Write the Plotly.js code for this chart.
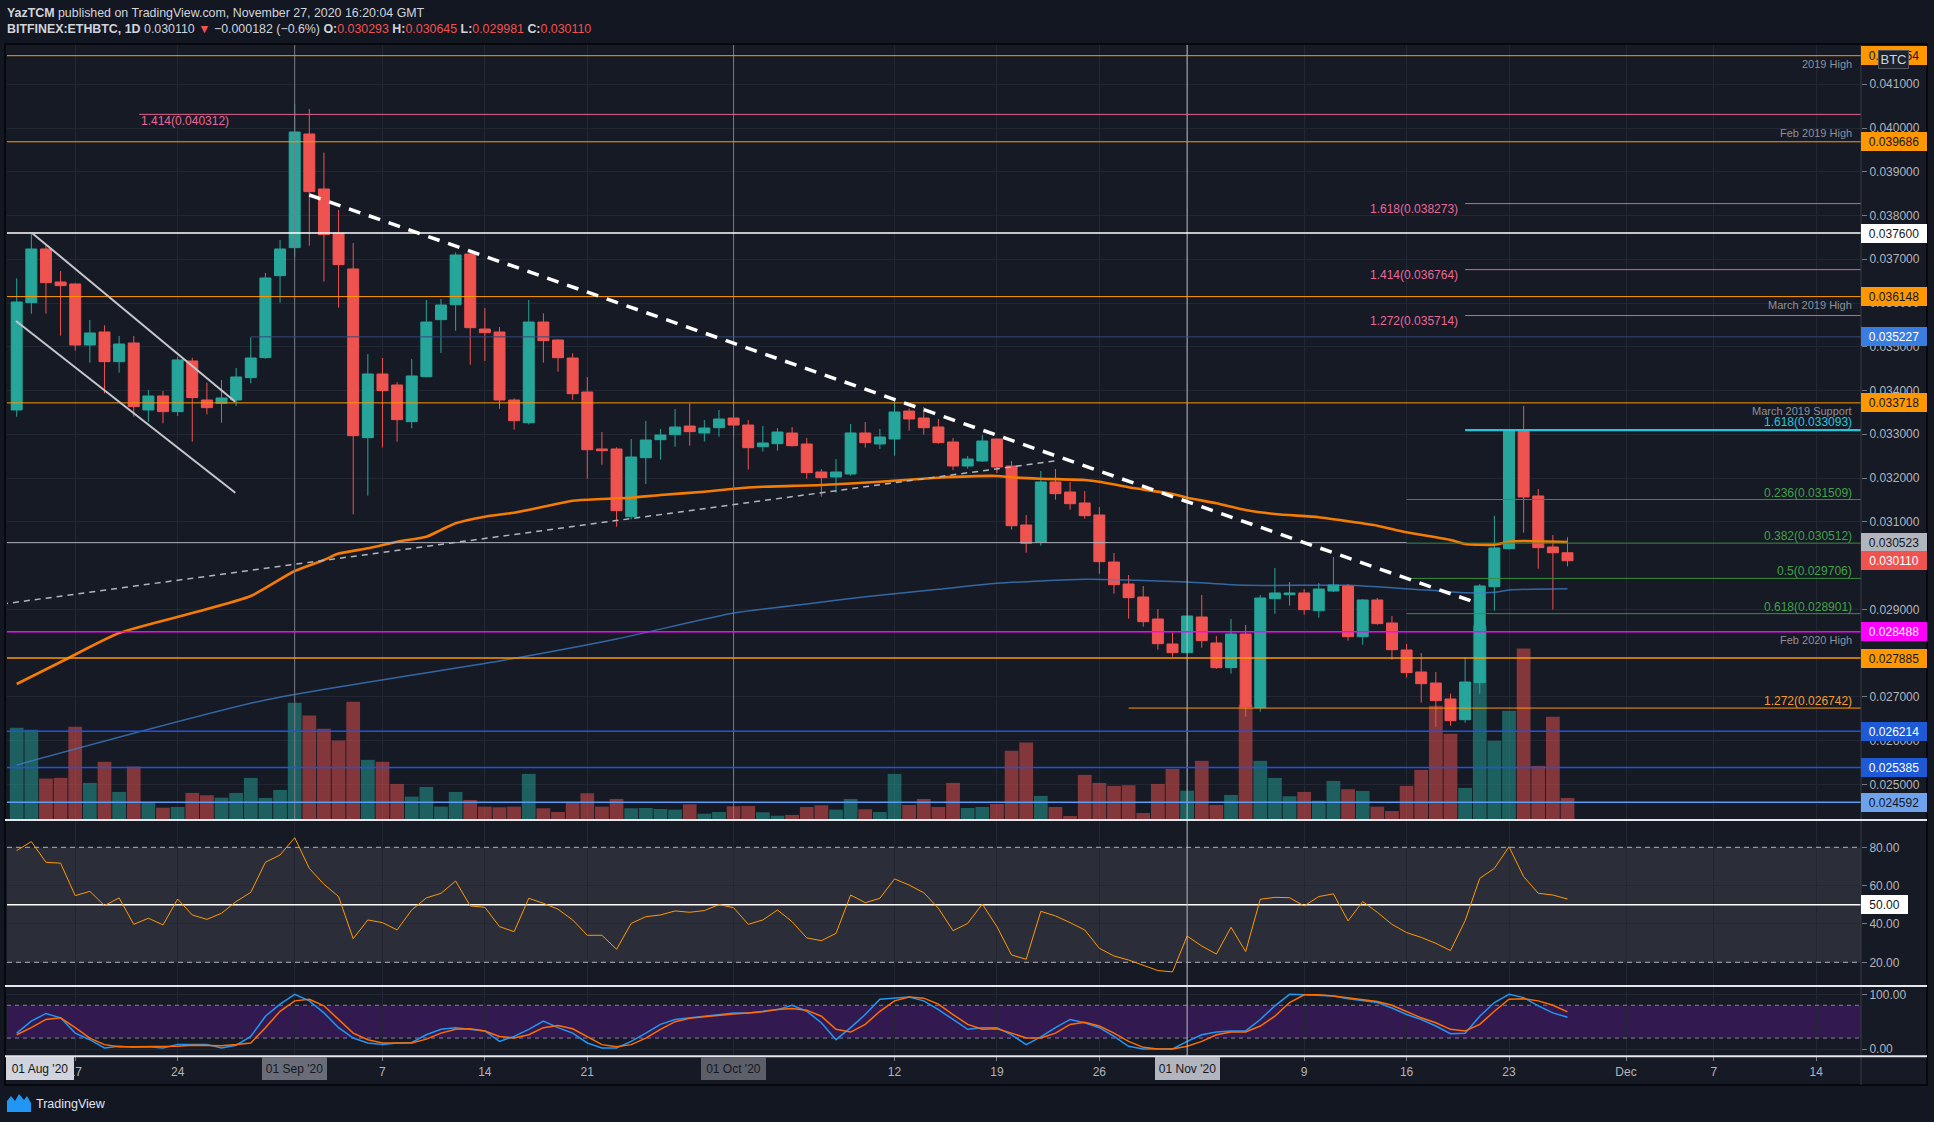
<!DOCTYPE html>
<html>
<head>
<meta charset="utf-8">
<script src="https://cdn.plot.ly/plotly-3.0.1.min.js"></script>
<style>
html,body{margin:0;padding:0;background:#131722;overflow:hidden;}
#chart{width:1934px;height:1122px;}
</style>
</head>
<body>
<div id="chart"></div>
<script>
// ---------------- DATA ----------------
const dates = [
'2020-08-13','2020-08-14','2020-08-15','2020-08-16','2020-08-17','2020-08-18','2020-08-19','2020-08-20','2020-08-21','2020-08-22',
'2020-08-23','2020-08-24','2020-08-25','2020-08-26','2020-08-27','2020-08-28','2020-08-29','2020-08-30','2020-08-31','2020-09-01',
'2020-09-02','2020-09-03','2020-09-04','2020-09-05','2020-09-06','2020-09-07','2020-09-08','2020-09-09','2020-09-10','2020-09-11',
'2020-09-12','2020-09-13','2020-09-14','2020-09-15','2020-09-16','2020-09-17','2020-09-18','2020-09-19','2020-09-20','2020-09-21',
'2020-09-22','2020-09-23','2020-09-24','2020-09-25','2020-09-26','2020-09-27','2020-09-28','2020-09-29','2020-09-30','2020-10-01',
'2020-10-02','2020-10-03','2020-10-04','2020-10-05','2020-10-06','2020-10-07','2020-10-08','2020-10-09','2020-10-10','2020-10-11',
'2020-10-12','2020-10-13','2020-10-14','2020-10-15','2020-10-16','2020-10-17','2020-10-18','2020-10-19','2020-10-20','2020-10-21',
'2020-10-22','2020-10-23','2020-10-24','2020-10-25','2020-10-26','2020-10-27','2020-10-28','2020-10-29','2020-10-30','2020-10-31',
'2020-11-01','2020-11-02','2020-11-03','2020-11-04','2020-11-05','2020-11-06','2020-11-07','2020-11-08','2020-11-09','2020-11-10',
'2020-11-11','2020-11-12','2020-11-13','2020-11-14','2020-11-15','2020-11-16','2020-11-17','2020-11-18','2020-11-19','2020-11-20',
'2020-11-21','2020-11-22','2020-11-23','2020-11-24','2020-11-25','2020-11-26','2020-11-27'];

const open = [0.033556,0.036009,0.037236,0.036481,0.036436,0.035041,0.035339,0.034660,0.035087,0.033556,
0.033876,0.033518,0.034676,0.033784,0.033708,0.033784,0.034295,0.034752,0.036626,0.037266,
0.039864,0.038607,0.037594,0.036779,0.032923,0.034379,0.034127,0.033289,0.034317,0.035620,
0.035963,0.037121,0.035406,0.035338,0.033784,0.033265,0.035566,0.035155,0.034744,0.033966,
0.032664,0.032664,0.031117,0.032465,0.032877,0.032991,0.033189,0.033029,0.033151,0.033372,
0.033212,0.032717,0.032785,0.033029,0.032778,0.032138,0.032024,0.032092,0.033030,0.032778,
0.032892,0.033532,0.033372,0.033167,0.032824,0.032275,0.032390,0.032892,0.032275,0.030927,
0.030538,0.031910,0.031681,0.031430,0.031155,0.030081,0.029578,0.029281,0.028778,0.028207,
0.028009,0.028824,0.028230,0.027666,0.028435,0.026752,0.029243,0.029334,0.029373,0.028969,
0.029418,0.029533,0.028374,0.029213,0.028687,0.028070,0.027567,0.027315,0.026950,0.026477,
0.027323,0.029517,0.030386,0.033075,0.031590,0.030424,0.030293];

const high = [0.036565,0.037609,0.037327,0.036733,0.036451,0.035613,0.035491,0.035247,0.035247,0.034013,
0.033990,0.034775,0.034752,0.034180,0.034241,0.034516,0.035217,0.036687,0.037441,0.040550,
0.040436,0.039438,0.038127,0.037373,0.034836,0.034744,0.034196,0.034721,0.036069,0.036092,
0.037159,0.037160,0.035886,0.035452,0.033822,0.036069,0.035765,0.035170,0.034850,0.034309,
0.033052,0.032702,0.032892,0.033304,0.033121,0.033578,0.033707,0.033326,0.033555,0.033867,
0.033326,0.033189,0.033144,0.033166,0.032915,0.032207,0.032435,0.033235,0.033281,0.033121,
0.033761,0.033593,0.033624,0.033350,0.032915,0.032504,0.032984,0.032900,0.032390,0.031155,
0.032161,0.032207,0.031910,0.031704,0.031338,0.030287,0.029784,0.029532,0.029007,0.028466,
0.028847,0.029327,0.028390,0.028778,0.028641,0.029327,0.029944,0.029624,0.029464,0.029601,
0.030195,0.029578,0.029235,0.029258,0.028847,0.028207,0.028001,0.027567,0.027072,0.027910,
0.029578,0.031140,0.033098,0.033650,0.031750,0.030698,0.030645];

const low = [0.033403,0.035758,0.035758,0.035255,0.034912,0.034638,0.033937,0.034409,0.033403,0.033289,
0.033251,0.033419,0.032832,0.033457,0.033266,0.033647,0.034165,0.034729,0.036009,0.037060,
0.037312,0.036489,0.035895,0.031171,0.031598,0.032702,0.032832,0.033137,0.034300,0.034858,
0.035368,0.034591,0.034675,0.033585,0.033105,0.033227,0.034637,0.034431,0.033784,0.031985,
0.032305,0.030888,0.031056,0.031864,0.032420,0.032717,0.032740,0.032831,0.032945,0.032968,
0.032191,0.032603,0.032625,0.032717,0.031985,0.031574,0.031666,0.032054,0.032694,0.032664,
0.032511,0.033083,0.032991,0.032786,0.032184,0.032214,0.032367,0.032115,0.030820,0.030294,
0.030454,0.031506,0.031277,0.031071,0.029814,0.029357,0.028786,0.028603,0.028077,0.027917,
0.027990,0.028123,0.027640,0.027529,0.026546,0.026660,0.028900,0.029083,0.028877,0.028809,
0.029395,0.028283,0.028192,0.028649,0.027849,0.027437,0.026866,0.026317,0.026340,0.026409,
0.027072,0.028969,0.030363,0.030752,0.029929,0.028992,0.029981];

const close = [0.036024,0.037236,0.036466,0.036398,0.035041,0.035316,0.034660,0.035064,0.033632,0.033876,
0.033518,0.034699,0.033838,0.033609,0.033830,0.034310,0.034744,0.036573,0.037236,0.039910,
0.038546,0.037563,0.036878,0.032969,0.034379,0.033998,0.033335,0.034333,0.035566,0.035955,
0.037098,0.035437,0.035323,0.033784,0.033311,0.035566,0.035140,0.034751,0.033928,0.032648,
0.032625,0.031254,0.032481,0.032869,0.032984,0.033166,0.033060,0.033144,0.033349,0.033212,
0.032694,0.032801,0.033052,0.032740,0.032123,0.032009,0.032138,0.033030,0.032809,0.032938,
0.033510,0.033350,0.033151,0.032809,0.032275,0.032435,0.032847,0.032252,0.030911,0.030508,
0.031910,0.031643,0.031414,0.031140,0.030089,0.029563,0.029266,0.028717,0.028214,0.028009,
0.028847,0.028283,0.027666,0.028435,0.026774,0.029258,0.029373,0.029373,0.028992,0.029464,
0.029555,0.028374,0.029213,0.028672,0.028077,0.027552,0.027300,0.026912,0.026454,0.027338,
0.029533,0.030401,0.033093,0.031567,0.030409,0.030293,0.030110];

// volume (relative units)
const volume = [92,90,41.3,42,93,37,58,28,53.3,17.3,
12.3,13,27,24.7,22.3,27,42,22,30,117,
104.3,91,79.3,118,60,58,36,23.3,33,13.3,
28,20,13.3,12.7,13.3,46,11.7,8,17.3,26.7,
13.3,21,11.7,12,11,10.3,15.7,6.3,8,13.7,
14,7.7,4.3,5,13,14.7,10.3,21,10.7,8,
46,15,21,13,37,12,13,16,69,77.3,
24,13,4,45,37,34,34.7,7,36,51,
29.3,59,15,25,115,59,42,23.7,28,19.3,
39,30.7,29,13.3,9,34,50,114,86,32,
194,79,109,171,54,103,22];

const rsi = [78.3,83,72.2,71.7,54.8,57,49.6,53.6,39.8,43,
39.5,53,44.7,42.4,45.6,51.7,56.5,72.2,76,85,
69,60.7,54.3,32.3,42.1,40.7,36.9,47.3,53.6,56,
62.4,49.4,48.7,38.6,36,53.4,50.8,47.7,42.1,34.1,
34.1,26.8,40.3,43.8,44.7,46.8,46.1,47,50.1,48.5,
39.8,42.1,47.3,41.2,32.7,31.3,35.1,55.1,51.1,53.4,
63.5,60.3,56.3,48.2,36.5,40.3,50.4,38.6,23.8,21.6,
46.6,44.2,40.7,36.9,27.3,23.3,21.2,18.3,15.7,15,
33.7,28.5,24.3,38.3,25.6,52.9,53.9,53.7,49.4,54.3,
55.7,41.6,51.7,46.1,39.8,35.5,33,29.9,26.1,41.7,
63.8,69,80.3,64.7,56,55.1,53];

const stochK = [29,51,65,57,29,17,2,5,3,4,
2,8,8,8,2,7,23,60,82,100,
88,66,39,20,11,8,11,12,26,36,
39,36,33,14,23,36,51,39,29,11,
2,2,14,29,45,54,57,60,63,66,
66,69,72,80,69,48,17,39,63,91,
93,95,88,72,54,36,39,39,26,8,
22,39,54,48,39,23,5,0,0,0,
14,26,31,33,33,54,79,100,99,98,
97,92,88,85,75,63,54,42,28,29,
60,85,100,94,79,66,58];

const stochD = [26,39,54,57,39,20,8,4,4,4,
4,5,7,7,6,8,11,39,69,88,
91,79,54,29,17,11,11,11,18,29,
36,37,33,23,20,26,39,43,37,23,
8,4,8,20,36,50,56,59,62,64,
66,68,72,74,71,60,36,31,45,69,
88,95,93,82,63,45,36,37,29,20,
20,29,45,49,42,29,14,3,0,0,
5,14,26,31,31,42,60,85,99,99,
97,94,90,87,80,69,57,48,36,33,
45,69,91,92,88,80,68];

const ma100Dates = ['2020-08-13','2020-08-16','2020-08-20','2020-08-25','2020-08-29','2020-09-01','2020-09-03','2020-09-04','2020-09-06','2020-09-08',
'2020-09-10','2020-09-11','2020-09-12','2020-09-14','2020-09-16','2020-09-18','2020-09-20','2020-09-22','2020-09-24','2020-09-26',
'2020-09-29','2020-10-01','2020-10-03','2020-10-07','2020-10-11','2020-10-15','2020-10-19','2020-10-20','2020-10-22','2020-10-25',
'2020-10-26','2020-10-28','2020-10-31','2020-11-01','2020-11-03','2020-11-05','2020-11-07','2020-11-10','2020-11-12','2020-11-14',
'2020-11-16','2020-11-19','2020-11-20','2020-11-22','2020-11-23','2020-11-24','2020-11-27'];
const ma100 = [0.027293,0.027795,0.028458,0.028915,0.029304,0.029875,0.030127,0.030273,0.030394,0.030545,
0.030659,0.030813,0.030966,0.031117,0.031208,0.031345,0.031482,0.031521,0.031551,0.031613,
0.031688,0.031757,0.031802,0.031841,0.031917,0.032008,0.032047,0.032017,0.031985,0.031955,
0.031917,0.031789,0.031635,0.031550,0.031423,0.031270,0.031178,0.031103,0.031011,0.030911,
0.030760,0.030584,0.030493,0.030477,0.030545,0.030561,0.030538];

const ma200Dates = ['2020-08-13','2020-08-30','2020-09-15','2020-09-23','2020-10-01','2020-10-06','2020-10-10','2020-10-15','2020-10-19','2020-10-25',
'2020-10-28','2020-11-01','2020-11-05','2020-11-12','2020-11-16','2020-11-20','2020-11-22','2020-11-23','2020-11-27'];
const ma200 = [0.025441,0.026927,0.027819,0.028321,0.028915,0.029121,0.029288,0.029457,0.029594,0.029686,
0.029670,0.029625,0.029549,0.029549,0.029471,0.029379,0.029389,0.029441,0.029471];

const timeTickVals = ['2020-08-17','2020-08-24','2020-09-01','2020-09-07','2020-09-14','2020-09-21','2020-10-01','2020-10-12','2020-10-19','2020-10-26',
'2020-11-01','2020-11-09','2020-11-16','2020-11-23','2020-12-01','2020-12-07','2020-12-14'];
const timeTickText = ['17','24',"01 Sep '20",'7','14','21',"01 Oct '20",'12','19','26',"01 Nov '20",'9','16','23','Dec','7','14'];

// price scale labels that are not hidden behind the price tags
const priceTickVals = [0.025,0.026,0.027,0.029,0.031,0.032,0.033,0.034,0.035,0.036,0.037,0.038,0.039,0.040,0.041];

// horizontal levels drawn on the price pane
const levels = [
 {p:0.041654, c:'#ff9800', w:1},
 {p:0.040312, c:'#e0608e', w:1, from:'2020-08-21 09:00'},
 {p:0.039686, c:'#ff9800', w:1},
 {p:0.038273, c:'#e0608e', w:1, from:'2020-11-20'},
 {p:0.037600, c:'#ffffff', w:1.5},
 {p:0.036764, c:'#e0608e', w:1, from:'2020-11-20'},
 {p:0.036148, c:'#ff9800', w:1},
 {p:0.035714, c:'#e0608e', w:1, from:'2020-11-20'},
 {p:0.035227, c:'#34497a', w:1, from:'2020-08-29'},
 {p:0.033718, c:'#ff9800', w:1},
 {p:0.033093, c:'#26c6da', w:2.2, from:'2020-11-20'},
 {p:0.031509, c:'#388e3c', w:1, from:'2020-11-16'},
 {p:0.030523, c:'#b2b5be', w:1, to:'2020-11-16'},
 {p:0.030512, c:'#388e3c', w:1, from:'2020-11-16'},
 {p:0.029706, c:'#388e3c', w:1, from:'2020-11-16'},
 {p:0.028901, c:'#388e3c', w:1, from:'2020-11-16'},
 {p:0.028488, c:'#ff00ff', w:1.5},
 {p:0.027885, c:'#ff9800', w:1.5},
 {p:0.026742, c:'#ff9800', w:1, from:'2020-10-28'},
 {p:0.026214, c:'#1e53e5', w:1.5},
 {p:0.025385, c:'#1e53e5', w:1.5},
 {p:0.024592, c:'#5b9cf6', w:1.5}
];

// notes attached to levels
const levelNotes = [
 {p:0.041654, t:'2019 High', dy:-8, c:'#8d909a', s:11},
 {p:0.039686, t:'Feb 2019 High', dy:9, c:'#8d909a', s:11},
 {p:0.036148, t:'March 2019 High', dy:-8, c:'#8d909a', s:11},
 {p:0.033718, t:'March 2019 Support', dy:-8, c:'#8d909a', s:11},
 {p:0.033093, t:'1.618(0.033093)', dy:8, c:'#26c6da', s:12},
 {p:0.031509, t:'0.236(0.031509)', dy:7, c:'#43a047', s:12},
 {p:0.030512, t:'0.382(0.030512)', dy:7, c:'#43a047', s:12},
 {p:0.029706, t:'0.5(0.029706)', dy:7, c:'#43a047', s:12},
 {p:0.028901, t:'0.618(0.028901)', dy:7, c:'#43a047', s:12},
 {p:0.028488, t:'Feb 2020 High', dy:-8, c:'#8d909a', s:11},
 {p:0.026742, t:'1.272(0.026742)', dy:7, c:'#f39c35', s:12}
];
const fibLeftNotes = [
 {p:0.038273, t:'1.618(0.038273)'},
 {p:0.036764, t:'1.414(0.036764)'},
 {p:0.035714, t:'1.272(0.035714)'}
];

// price-scale tags
const tags = [
 {p:0.041654, bg:'#ff9800', fg:'#131722'},
 {p:0.039686, bg:'#ff9800', fg:'#131722'},
 {p:0.037600, bg:'#ffffff', fg:'#131722'},
 {p:0.036148, bg:'#ff9800', fg:'#131722'},
 {p:0.035227, bg:'#3a7de0', fg:'#ffffff'},
 {p:0.033718, bg:'#ff9800', fg:'#131722'},
 {p:0.030523, bg:'#b2b5be', fg:'#131722'},
 {p:0.030110, bg:'#ef5350', fg:'#ffffff'},
 {p:0.028488, bg:'#ff00ff', fg:'#ffffff'},
 {p:0.027885, bg:'#ff9800', fg:'#131722'},
 {p:0.026214, bg:'#1e5ad6', fg:'#ffffff'},
 {p:0.025385, bg:'#1e5ad6', fg:'#ffffff'},
 {p:0.024592, bg:'#6ea2ec', fg:'#131722'}
];

// drawn trend lines
const trendLines = [
 {x0:'2020-09-02 00:00', y0:0.038470, x1:'2020-11-20 16:19', y1:0.029160, c:'#ffffff', w:3.5, dash:'12px,9px'},
 {x0:'2020-08-12 00:00', y0:0.029118, x1:'2020-10-23 02:10', y1:0.032397, c:'#b2b5be', w:1.5, dash:'6px,5px'},
 {x0:'2020-08-14 00:36', y0:0.037608, x1:'2020-08-27 22:34', y1:0.033745, c:'#c4c6cc', w:2, dash:'solid'},
 {x0:'2020-08-12 22:51', y0:0.035590, x1:'2020-08-27 22:34', y1:0.031665, c:'#c4c6cc', w:2, dash:'solid'}
];

// ---------------- LAYOUT GEOMETRY ----------------
const W = 1934, H = 1122;
const X0 = 7, X1 = 1861;
const Y_TOP = 45, Y_PRICE_BOT = 820, Y_RSI_BOT = 986, Y_STO_BOT = 1056.3;
const px = v => v / W, py = v => 1 - v / H;
const xRange = ['2020-08-12 08:05', '2020-12-17 01:26'];
const FONT = 'Liberation Sans, Arial, sans-serif';
const up = '#26a69a', down = '#ef5350';
const grid = '#232733';

const volColors = close.map((c, i) => c >= open[i] ? 'rgba(38,166,154,0.5)' : 'rgba(239,83,80,0.5)');

const traces = [
 {type:'bar', x:dates, y:volume, xaxis:'x', yaxis:'y', marker:{color:volColors, line:{width:0}}, hoverinfo:'skip'},
 {type:'candlestick', x:dates, open:open, high:high, low:low, close:close, xaxis:'x', yaxis:'y2',
  increasing:{line:{color:up, width:1}, fillcolor:up}, decreasing:{line:{color:down, width:1}, fillcolor:down}, whiskerwidth:0},
 {type:'scatter', mode:'lines', x:ma200Dates, y:ma200, xaxis:'x', yaxis:'y2', line:{color:'rgba(62,130,205,0.75)', width:1.5, shape:'spline', smoothing:0.6}},
 {type:'scatter', mode:'lines', x:ma100Dates, y:ma100, xaxis:'x', yaxis:'y2', line:{color:'#f57c00', width:2.6, shape:'spline', smoothing:0.6}},
 {type:'scatter', mode:'lines', x:dates, y:rsi, xaxis:'x', yaxis:'y3', line:{color:'#ff9800', width:1}},
 {type:'scatter', mode:'lines', x:dates, y:stochK, xaxis:'x', yaxis:'y4', line:{color:'#2196f3', width:1.5}},
 {type:'scatter', mode:'lines', x:dates, y:stochD, xaxis:'x', yaxis:'y4', line:{color:'#ff6d00', width:1.5}}
];

const shapes = [];
shapes.push({type:'rect', xref:'paper', yref:'paper', x0:px(5), x1:px(1927), y0:py(1085), y1:py(Y_TOP-1), fillcolor:'#161a25', line:{color:'#07080c', width:2}, layer:'below'});
shapes.push({type:'rect', xref:'x', yref:'y3', x0:xRange[0], x1:xRange[1], y0:20, y1:80, fillcolor:'#2b2e39', line:{width:0}, layer:'below'});
shapes.push({type:'rect', xref:'x', yref:'y4', x0:xRange[0], x1:xRange[1], y0:20, y1:80, fillcolor:'#321a50', line:{width:0}, layer:'below'});
[80, 20].forEach(v => shapes.push({type:'line', xref:'x', yref:'y3', x0:xRange[0], x1:xRange[1], y0:v, y1:v, line:{color:'#aeb1ba', width:1, dash:'5px,4px'}, layer:'between'}));
shapes.push({type:'line', xref:'x', yref:'y3', x0:xRange[0], x1:xRange[1], y0:50, y1:50, line:{color:'#ffffff', width:1.5}, layer:'between'});
[80, 20].forEach(v => shapes.push({type:'line', xref:'x', yref:'y4', x0:xRange[0], x1:xRange[1], y0:v, y1:v, line:{color:'#8b7ba6', width:1, dash:'4px,4px'}, layer:'between'}));
['2020-09-01','2020-10-01'].forEach(d => shapes.push({type:'line', xref:'x', yref:'paper', x0:d, x1:d, y0:py(Y_PRICE_BOT), y1:py(Y_TOP), line:{color:'#787b86', width:1}, layer:'above'}));
shapes.push({type:'line', xref:'x', yref:'paper', x0:'2020-11-01', x1:'2020-11-01', y0:py(Y_STO_BOT), y1:py(Y_TOP), line:{color:'#b8bbc3', width:1}, layer:'above'});
levels.forEach(l => shapes.push({type:'line', xref:'x', yref:'y2', x0:l.from || xRange[0], x1:l.to || xRange[1], y0:l.p, y1:l.p, line:{color:l.c, width:l.w}, layer:'above'}));
trendLines.forEach(t => shapes.push({type:'line', xref:'x', yref:'y2', x0:t.x0, x1:t.x1, y0:t.y0, y1:t.y1, line:{color:t.c, width:t.w, dash:t.dash}, layer:'above'}));
shapes.push({type:'line', xref:'paper', yref:'paper', x0:px(X1), x1:px(X1), y0:py(1085), y1:py(Y_TOP), line:{color:'#363a45', width:1}, layer:'above'});
[Y_PRICE_BOT, Y_RSI_BOT, Y_STO_BOT].forEach(y => shapes.push({type:'line', xref:'paper', yref:'paper', x0:px(5), x1:px(1927), y0:py(y), y1:py(y), line:{color:'#e6e8ee', width:2}, layer:'above'}));
const logoPts = [[7,1112],[7,1101],[11,1096],[15,1101],[19,1094],[24,1100],[27,1096],[31,1103],[31,1112]];
shapes.push({type:'path', xref:'paper', yref:'paper', path:'M' + logoPts.map(p => px(p[0]) + ',' + py(p[1])).join('L') + 'Z', fillcolor:'#2196f3', line:{width:0}, layer:'above'});

const annotations = [];
annotations.push({xref:'paper', yref:'paper', x:px(5), y:py(13), xanchor:'left', yanchor:'middle', showarrow:false,
 text:'<b>YazTCM</b> published on TradingView.com, November 27, 2020 16:20:04 GMT', font:{family:FONT, size:12.4, color:'#d1d4dc'}});
const red = s => '<span style="color:#ef5350">' + s + '</span>';
annotations.push({xref:'paper', yref:'paper', x:px(5), y:py(29.5), xanchor:'left', yanchor:'middle', showarrow:false,
 text:'<b>BITFINEX:ETHBTC, 1D</b> 0.030110 ' + red('▼') + ' −0.000182 (−0.6%) <b>O:</b>' + red('0.030293') + ' <b>H:</b>' + red('0.030645') + ' <b>L:</b>' + red('0.029981') + ' <b>C:</b>' + red('0.030110'),
 font:{family:FONT, size:12.4, color:'#d1d4dc'}});
levelNotes.forEach(n => annotations.push({xref:'paper', yref:'y2', x:px(1854), y:n.p, yshift:n.dy, xanchor:'right', yanchor:'middle', showarrow:false, text:n.t, font:{family:FONT, size:n.s, color:n.c}}));
fibLeftNotes.forEach(n => annotations.push({xref:'paper', yref:'y2', x:px(1460), y:n.p, yshift:-5, xanchor:'right', yanchor:'middle', showarrow:false, text:n.t, font:{family:FONT, size:12, color:'#e8689a'}}));
annotations.push({xref:'x', yref:'y2', x:'2020-08-21 09:00', y:0.040312, yshift:-7, xanchor:'left', yanchor:'middle', showarrow:false, text:'1.414(0.040312)', font:{family:FONT, size:12, color:'#e8689a'}});
tags.forEach(t => annotations.push({xref:'paper', yref:'y2', x:px(X1), y:t.p, xanchor:'left', yanchor:'middle', showarrow:false,
 text:t.p.toFixed(6), width:62, height:15, borderpad:2, borderwidth:0, bgcolor:t.bg, align:'center', font:{family:FONT, size:12, color:t.fg}}));
annotations.push({xref:'paper', yref:'paper', x:px(1893.5), y:py(59.5), xanchor:'center', yanchor:'middle', showarrow:false, text:'BTC',
 width:27, height:15, borderpad:1, bgcolor:'#1e222d', bordercolor:'#50535e', borderwidth:1, font:{family:FONT, size:13, color:'#d1d4dc'}});
annotations.push({xref:'paper', yref:'y3', x:px(X1), y:50, xanchor:'left', yanchor:'middle', showarrow:false, text:'50.00',
 width:43, height:15, borderpad:2, borderwidth:0, bgcolor:'#ffffff', align:'center', font:{family:FONT, size:12, color:'#131722'}});
annotations.push({xref:'paper', yref:'paper', x:px(6), y:py(1068.5), xanchor:'left', yanchor:'middle', showarrow:false, text:"01 Aug '20",
 width:64, height:19, borderpad:2, borderwidth:0, bgcolor:'#d1d4dc', align:'center', font:{family:FONT, size:12, color:'#131722'}});
[["2020-09-01","01 Sep '20",'#6a6d78'],["2020-10-01","01 Oct '20",'#5d5f68'],["2020-11-01","01 Nov '20",'#b2b5be']].forEach(b =>
 annotations.push({xref:'x', yref:'paper', x:b[0], y:py(1068.5), xanchor:'center', yanchor:'middle', showarrow:false, text:b[1],
  width:61, height:19, borderpad:2, borderwidth:0, bgcolor:b[2], align:'center', font:{family:FONT, size:12, color:'#131722'}}));
annotations.push({xref:'paper', yref:'paper', x:px(34), y:py(1104), xanchor:'left', yanchor:'middle', showarrow:false, text:'TradingView', font:{family:FONT, size:12.5, color:'#e0e3eb'}});

const axisFont = {family:FONT, size:12, color:'#b2b5be'};
const layout = {
 width:W, height:H, autosize:false,
 margin:{l:0, r:0, t:0, b:0, pad:0},
 paper_bgcolor:'#131722', plot_bgcolor:'rgba(0,0,0,0)',
 showlegend:false, hovermode:false, dragmode:false,
 bargap:0.06, boxgap:0.25, boxgroupgap:0,
 font:{family:FONT, color:'#b2b5be'},
 xaxis:{domain:[px(X0), px(X1)], anchor:'y4', type:'date', range:xRange, rangeslider:{visible:false},
  tickvals:timeTickVals, ticktext:timeTickText, tickfont:axisFont, ticks:'outside', ticklen:4, tickcolor:'#787b86',
  showgrid:true, gridcolor:grid, gridwidth:1, zeroline:false, showline:false, fixedrange:true},
 yaxis:{domain:[py(Y_PRICE_BOT), py(Y_TOP)], range:[0, 773], visible:false, showgrid:false, fixedrange:true},
 yaxis2:{overlaying:'y', anchor:'x', side:'right', range:[0.024184, 0.041898], tickvals:priceTickVals, tickformat:'.6f',
  tickfont:axisFont, ticks:'outside', ticklen:5, tickcolor:'#787b86', showgrid:true, gridcolor:grid, zeroline:false, showline:false, fixedrange:true},
 yaxis3:{domain:[py(Y_RSI_BOT), py(Y_PRICE_BOT)], anchor:'x', side:'right', range:[7.64, 94.24], tickvals:[20,40,60,80], ticktext:['20.00','40.00','60.00','80.00'],
  tickfont:axisFont, ticks:'outside', ticklen:5, tickcolor:'#787b86', showgrid:true, gridcolor:grid, zeroline:false, showline:false, fixedrange:true},
 yaxis4:{domain:[py(Y_STO_BOT), py(Y_RSI_BOT)], anchor:'x', side:'right', range:[-13.35, 115.2], tickvals:[0,100], ticktext:['0.00','100.00'],
  tickfont:axisFont, ticks:'outside', ticklen:5, tickcolor:'#787b86', showgrid:true, gridcolor:grid, zeroline:false, showline:false, fixedrange:true},
 shapes:shapes,
 annotations:annotations
};

Plotly.newPlot('chart', traces, layout, {displayModeBar:false, staticPlot:true});
</script>
</body>
</html>
